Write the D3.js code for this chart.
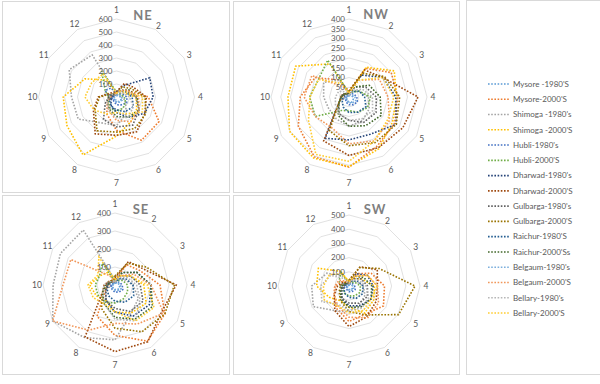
<!DOCTYPE html>
<html>
<head>
<meta charset="utf-8">
<script src="https://cdn.jsdelivr.net/npm/d3@7"></script>
<style>
  body { margin: 0; background: #fff; }
  svg { display: block; font-family: Lato, "Liberation Sans", Arial, sans-serif; }
</style>
</head>
<body>
<svg id="chart" width="600" height="384"></svg>
<script>
// axis labels (months 1..12, clockwise from top)
const axisLabels = ["1", "2", "3", "4", "5", "6", "7", "8", "9", "10", "11", "12"];

const seriesNames = [
  "Mysore -1980'S", "Mysore-2000'S", "Shimoga -1980's", "Shimoga -2000'S",
  "Hubli-1980's", "Hubli-2000'S", "Dharwad-1980's", "Dharwad-2000'S",
  "Gulbarga-1980's", "Gulbarga-2000'S", "Raichur-1980'S", "Raichur-2000'Ss",
  "Belgaum-1980's", "Belgaum-2000'S", "Bellary-1980's", "Bellary-2000'S"
];

// one row per series (same order as seriesNames), one value per axis
const neValues = [
  [10, 15, 20, 30, 40, 45, 40, 30, 25, 20, 15, 10],
  [20, 50, 100, 245, 378, 385, 256, 150, 80, 50, 30, 20],
  [30, 20, 30, 50, 80, 150, 220, 230, 340, 346, 420, 374],
  [20, 30, 60, 150, 180, 220, 300, 515, 440, 410, 280, 150],
  [20, 30, 50, 80, 90, 70, 60, 40, 30, 60, 100, 80],
  [40, 30, 40, 60, 80, 100, 110, 100, 70, 60, 100, 230],
  [40, 100, 295, 282, 250, 180, 120, 80, 50, 30, 20, 20],
  [40, 120, 150, 230, 252, 310, 295, 327, 205, 140, 60, 40],
  [30, 60, 90, 150, 200, 250, 230, 200, 100, 60, 40, 20],
  [30, 90, 130, 220, 260, 280, 270, 300, 190, 130, 50, 30],
  [20, 50, 80, 120, 150, 130, 100, 80, 60, 40, 30, 20],
  [30, 60, 110, 160, 200, 180, 150, 110, 80, 60, 40, 30],
  [10, 20, 30, 40, 50, 40, 30, 20, 20, 15, 10, 10],
  [30, 60, 100, 170, 200, 220, 180, 120, 80, 50, 40, 30],
  [20, 40, 60, 100, 150, 180, 160, 120, 80, 60, 40, 20],
  [30, 50, 80, 200, 230, 150, 120, 150, 200, 243, 220, 205]
];

const nwValues = [
  [5, 10, 15, 20, 25, 30, 25, 20, 15, 10, 8, 5],
  [30, 170, 250, 250, 270, 290, 360, 355, 300, 250, 200, 100],
  [20, 40, 60, 100, 120, 140, 150, 130, 120, 130, 150, 100],
  [20, 176, 268, 243, 258, 306, 357, 362, 352, 313, 316, 196],
  [10, 20, 30, 40, 50, 45, 40, 30, 20, 15, 10, 10],
  [20, 30, 60, 110, 110, 90, 70, 80, 200, 202, 181, 218],
  [20, 130, 200, 240, 280, 220, 220, 245, 60, 40, 30, 20],
  [30, 160, 200, 354, 318, 300, 300, 260, 60, 40, 30, 20],
  [20, 60, 100, 140, 160, 150, 120, 100, 60, 40, 30, 20],
  [30, 140, 210, 260, 280, 270, 250, 200, 60, 40, 30, 20],
  [10, 30, 60, 80, 100, 90, 80, 60, 40, 30, 20, 10],
  [20, 60, 120, 160, 190, 170, 150, 110, 60, 40, 30, 20],
  [10, 15, 20, 30, 40, 35, 30, 20, 15, 10, 10, 5],
  [20, 100, 180, 200, 240, 260, 240, 180, 200, 230, 220, 60],
  [10, 40, 80, 120, 140, 130, 120, 100, 80, 70, 60, 30],
  [20, 100, 200, 230, 230, 260, 330, 340, 240, 200, 180, 80]
];

const seValues = [
  [10, 15, 20, 25, 30, 30, 25, 20, 20, 15, 10, 10],
  [30, 130, 160, 250, 320, 360, 280, 200, 60, 40, 30, 20],
  [30, 40, 60, 100, 150, 180, 305, 337, 400, 344, 350, 353],
  [30, 60, 100, 160, 200, 180, 150, 100, 120, 140, 100, 80],
  [10, 20, 30, 40, 50, 45, 40, 30, 25, 20, 15, 10],
  [20, 30, 50, 70, 80, 90, 100, 110, 110, 110, 100, 140],
  [20, 80, 140, 200, 220, 200, 150, 100, 60, 40, 30, 20],
  [40, 150, 180, 340, 300, 364, 370, 333, 80, 60, 40, 30],
  [20, 60, 100, 140, 180, 170, 130, 100, 60, 40, 30, 20],
  [50, 140, 200, 330, 320, 300, 240, 150, 80, 50, 40, 30],
  [10, 40, 70, 100, 120, 110, 90, 70, 50, 40, 30, 20],
  [20, 80, 140, 200, 240, 220, 180, 120, 80, 50, 30, 20],
  [10, 15, 20, 30, 40, 35, 30, 20, 15, 10, 10, 5],
  [20, 60, 120, 200, 313, 250, 213, 290, 400, 289, 283, 60],
  [20, 50, 80, 120, 160, 230, 190, 120, 80, 60, 40, 20],
  [30, 60, 100, 180, 250, 230, 150, 120, 140, 150, 110, 179]
];

const swValues = [
  [10, 15, 20, 25, 30, 30, 25, 20, 15, 10, 10, 5],
  [30, 100, 180, 250, 280, 230, 250, 180, 120, 100, 60, 30],
  [20, 40, 60, 100, 130, 150, 180, 200, 290, 263, 180, 80],
  [30, 60, 100, 180, 200, 220, 150, 120, 160, 228, 249, 120],
  [10, 20, 30, 40, 50, 45, 40, 30, 20, 15, 10, 10],
  [20, 30, 50, 80, 90, 80, 70, 60, 50, 60, 80, 110],
  [20, 100, 150, 170, 180, 160, 140, 100, 60, 40, 30, 20],
  [40, 157, 230, 200, 220, 250, 286, 200, 120, 80, 50, 30],
  [20, 60, 100, 130, 150, 140, 120, 100, 60, 40, 30, 20],
  [40, 150, 246, 465, 403, 235, 180, 120, 80, 60, 40, 30],
  [10, 40, 70, 100, 110, 100, 80, 60, 40, 30, 20, 10],
  [20, 80, 120, 160, 180, 170, 150, 110, 70, 50, 30, 20],
  [10, 15, 20, 30, 40, 35, 30, 20, 15, 10, 10, 5],
  [20, 80, 150, 200, 240, 260, 220, 160, 120, 100, 80, 40],
  [20, 50, 80, 120, 160, 180, 170, 150, 220, 200, 150, 60],
  [30, 80, 150, 200, 180, 200, 190, 160, 200, 180, 160, 100]
];

// colours (Excel office palette)
const seriesColors = [
  "#5B9BD5", "#ED7D31", "#A5A5A5", "#FFC000", "#4472C4", "#70AD47",
  "#264478", "#9E480E", "#636363", "#997300", "#255E91", "#43682B",
  "#7CAFDD", "#F1975A", "#B7B7B7", "#FFCD33"
];

// panel layout
const panels = [
  { title: "NE", values: neValues, box: [2, 1, 227, 191], cx: 116.5, cy: 97, R: 78, max: 600, step: 100, tx: 143, ty: 20 },
  { title: "NW", values: nwValues, box: [233, 1, 226, 191], cx: 349, cy: 97, R: 78, max: 400, step: 50, tx: 376, ty: 19 },
  { title: "SE", values: seValues, box: [2, 195, 227, 179], cx: 115, cy: 285, R: 72, max: 400, step: 100, tx: 141, ty: 214 },
  { title: "SW", values: swValues, box: [233, 195, 226, 179], cx: 349, cy: 286, R: 71, max: 500, step: 100, tx: 375, ty: 213.5 }
];

const svg = d3.select("#chart");
const textColor = "#595959";
const angle = d3.scalePoint().domain(d3.range(12)).range([0, 2 * Math.PI * 11 / 12]);

panels.forEach(p => {
  svg.append("rect")
    .attr("x", p.box[0] + 0.5).attr("y", p.box[1] + 0.5)
    .attr("width", p.box[2]).attr("height", p.box[3])
    .attr("fill", "#fff").attr("stroke", "#d9d9d9");

  const g = svg.append("g").attr("transform", `translate(${p.cx},${p.cy})`);
  const r = d3.scaleLinear().domain([0, p.max]).range([0, p.R]);

  // grid rings
  const ring = d3.lineRadial()
    .angle((d, i) => angle(i))
    .radius(d => r(d))
    .curve(d3.curveLinearClosed);

  const ticks = d3.range(p.step, p.max + 1, p.step);
  g.selectAll(".ring")
    .data(ticks)
    .join("path")
    .attr("d", t => ring(axisLabels.map(() => t)))
    .attr("fill", "none")
    .attr("stroke", "#d9d9d9")
    .attr("stroke-width", 0.8);

  // axis category labels
  const lr = p.R + 6;
  g.selectAll(".cat")
    .data(axisLabels)
    .join("text")
    .attr("x", (d, i) => Math.sin(angle(i)) * lr)
    .attr("y", (d, i) => -Math.cos(angle(i)) * lr - (i === 0 ? 3 : 0) + (i === 6 ? 2 : 0) + (i === 1 ? 1.5 : 0))
    .attr("dy", "0.35em")
    .attr("text-anchor", "middle")
    .attr("font-size", 8.5)
    .attr("fill", textColor)
    .text(d => d);

  // series
  const line = d3.lineRadial()
    .angle((d, i) => angle(i))
    .radius(d => r(d))
    .curve(d3.curveLinearClosed);

  g.selectAll(".series")
    .data(p.values)
    .join("path")
    .attr("d", d => line(d))
    .attr("fill", "none")
    .attr("stroke", (d, i) => seriesColors[i])
    .attr("stroke-width", 1.6)
    .attr("stroke-dasharray", "1.6,1.6");

  // value tick labels along axis 1
  g.selectAll(".tick")
    .data(d3.range(0, p.max + 1, p.step))
    .join("text")
    .attr("x", -4)
    .attr("y", t => -r(t))
    .attr("dy", "0.35em")
    .attr("text-anchor", "end")
    .attr("font-size", 8)
    .attr("fill", textColor)
    .text(t => t);

  svg.append("text")
    .attr("x", p.tx).attr("y", p.ty)
    .attr("text-anchor", "middle")
    .attr("font-size", 13)
    .attr("font-weight", "bold")
    .attr("letter-spacing", 1)
    .attr("fill", "#7f7f7f")
    .text(p.title);
});

// legend
svg.append("rect")
  .attr("x", 466.5).attr("y", 0.5)
  .attr("width", 140).attr("height", 374)
  .attr("fill", "#fff").attr("stroke", "#d9d9d9");

const legendY = d3.scalePoint().domain(seriesNames).range([84, 313]);
const legend = svg.append("g")
  .selectAll("g")
  .data(seriesNames)
  .join("g")
  .attr("transform", d => `translate(0,${legendY(d)})`);

legend.append("line")
  .attr("x1", 488).attr("x2", 510)
  .attr("stroke", (d, i) => seriesColors[i])
  .attr("stroke-width", 1.6)
  .attr("stroke-dasharray", "1.6,1.6");

legend.append("text")
  .attr("x", 513)
  .attr("dy", "0.35em")
  .attr("font-size", 8)
  .attr("fill", textColor)
  .text(d => d);
</script>
</body>
</html>
